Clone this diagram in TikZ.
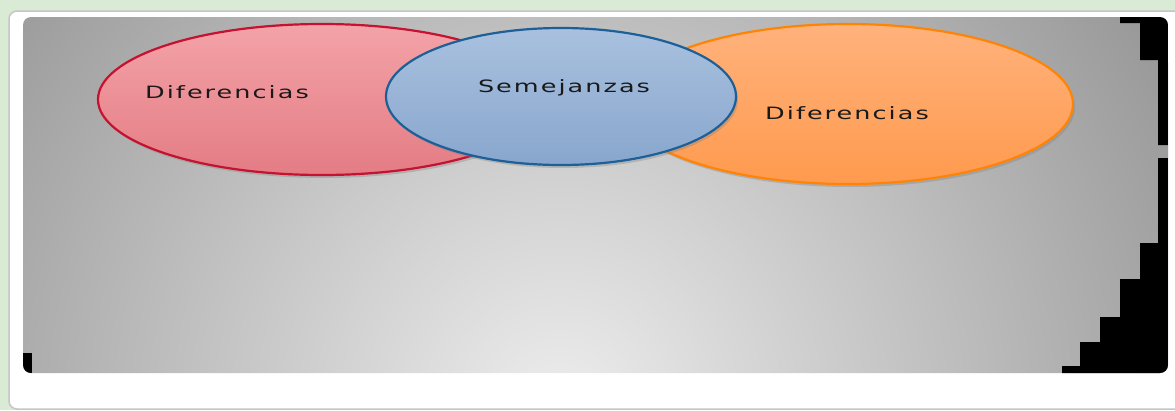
\documentclass[tikz,border=0pt]{standalone}
\usepackage{graphicx}
\usepackage{fontspec}
\setmainfont{DejaVu Sans}
\usetikzlibrary{shapes.geometric,shadows}

\definecolor{bggreen}{HTML}{D9EBD5}
\definecolor{redline}{HTML}{C41230}
\definecolor{redtop}{HTML}{F3A3A8}
\definecolor{redbot}{HTML}{E47C84}
\definecolor{blueline}{HTML}{1D5F97}
\definecolor{bluetop}{HTML}{A9C1DF}
\definecolor{bluebot}{HTML}{88A6CD}
\definecolor{orangeline}{HTML}{FF8405}
\definecolor{orangetop}{HTML}{FFB27C}
\definecolor{orangebot}{HTML}{FF9A4E}

\newcommand\stretchtext[1]{\scalebox{1.5}[1]{#1}}

\begin{document}
\begin{tikzpicture}
  [x=1pt, y=-1pt,
   set/.style={ellipse, draw, line width=2.2pt, inner sep=0pt,
     drop shadow={shadow xshift=2pt, shadow yshift=-3pt, opacity=.35}},
   setlabel/.style={font=\fontsize{17}{19}\selectfont\addfontfeature{LetterSpace=8},
     text=black!90, inner sep=0pt}]

  \useasboundingbox (0,0) rectangle (1175,410);
  \fill[bggreen] (0,0) rectangle (1175,410);

  % white frame
  \draw[fill=white, draw=gray!45, line width=1.5pt, rounded corners=8pt]
    (9,11) rectangle (1195,409);

  % gray panel
  \begin{scope}
    \clip[rounded corners=8pt] (23,17) rectangle (1168,373);
    \shade[inner color=black!7, outer color=black!40] (560,410) circle (700);
    \fill[black] (1120,17) -- (1168,17) -- (1168,145) -- (1158,145) -- (1158,60)
      -- (1140,60) -- (1140,23) -- (1120,23) -- cycle;
    \fill[black] (1168,158) -- (1168,373) -- (1062,373) -- (1062,366) -- (1080,366)
      -- (1080,342) -- (1100,342) -- (1100,317) -- (1120,317) -- (1120,279)
      -- (1140,279) -- (1140,243) -- (1158,243) -- (1158,158) -- cycle;
    \fill[black] (23,353) rectangle (32,373);
  \end{scope}

  % the three sets
  \node[set, draw=redline, top color=redtop, bottom color=redbot,
    minimum width=448pt, minimum height=151pt] (left) at (322,99.5) {};
  \node[set, draw=orangeline, top color=orangetop, bottom color=orangebot,
    minimum width=450pt, minimum height=160pt] (right) at (848,104) {};
  \node[set, draw=blueline, top color=bluetop, bottom color=bluebot,
    minimum width=350pt, minimum height=137pt] (middle) at (561,96.5) {};

  \node[setlabel] (difleft) at (227,92) {\stretchtext{Diferencias}};
  \node[setlabel] (sem) at (564,88) {\stretchtext{Semejanzas}};
  \node[setlabel] (difright) at (847,113) {\stretchtext{Diferencias}};
\end{tikzpicture}
\end{document}
